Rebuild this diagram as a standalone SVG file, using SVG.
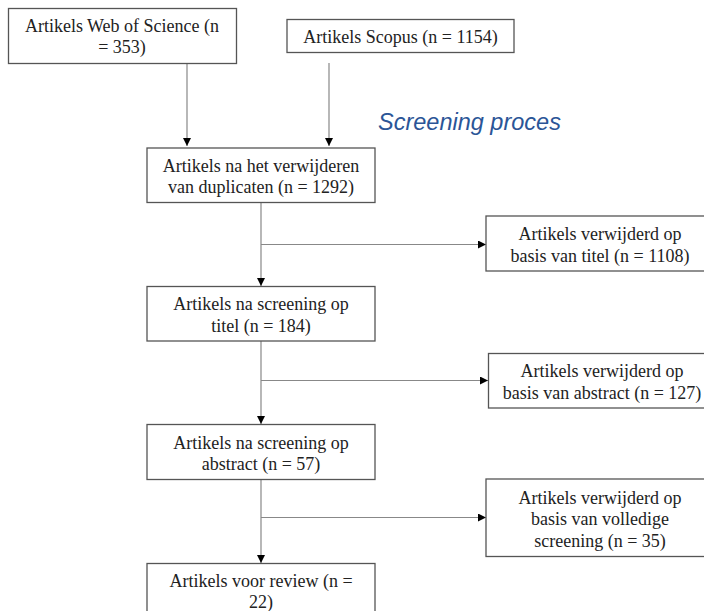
<svg xmlns="http://www.w3.org/2000/svg" width="704" height="611" viewBox="0 0 704 611">
<style>
.box{fill:#fff;stroke:#555;stroke-width:1.3}
.t{font-family:"Liberation Serif","Times New Roman",serif;font-size:18px;fill:#222;text-anchor:middle}
.c{stroke:#888;stroke-width:1.2;fill:none;marker-end:url(#ah)}
.lbl{font-family:"Liberation Sans",Arial,sans-serif;font-size:23.5px;font-style:italic;fill:#2B5597}
</style>
<defs>
<marker id="ah" viewBox="0 0 10 10" refX="10" refY="5" markerWidth="8" markerHeight="8" markerUnits="userSpaceOnUse" orient="auto">
<path d="M0,0 L10,5 L0,10 z" fill="#000"/>
</marker>
</defs>
<rect width="704" height="611" fill="#fff"/>
<g id="connectors">
<line class="c" x1="187" y1="64" x2="187" y2="146"/>
<line class="c" x1="329" y1="63" x2="329" y2="146"/>
<line class="c" x1="261" y1="203" x2="261" y2="286"/>
<line class="c" x1="261" y1="244.5" x2="486" y2="244.5"/>
<line class="c" x1="261" y1="341" x2="261" y2="424"/>
<line class="c" x1="261" y1="380.5" x2="488" y2="380.5"/>
<line class="c" x1="261" y1="479.5" x2="261" y2="563"/>
<line class="c" x1="261" y1="517.5" x2="486" y2="517.5"/>
</g>
<text class="lbl" x="378" y="130">Screening proces</text>
<g id="wos"><rect class="box" x="8.5" y="8.5" width="228" height="55"/>
<text class="t" x="122" y="32">Artikels Web of Science (n</text><text class="t" x="122" y="53">= 353)</text></g>
<g id="scopus"><rect class="box" x="287" y="19.5" width="227" height="33"/>
<text class="t" x="400.5" y="43">Artikels Scopus (n = 1154)</text></g>
<g id="dup"><rect class="box" x="147" y="148" width="228" height="54.5"/>
<text class="t" x="261" y="171.5">Artikels na het verwijderen</text><text class="t" x="261" y="193">van duplicaten (n = 1292)</text></g>
<g id="rmtitel"><rect class="box" x="486" y="216" width="228" height="55"/>
<text class="t" x="600" y="240">Artikels verwijderd op</text><text class="t" x="600" y="261.5">basis van titel (n = 1108)</text></g>
<g id="titel"><rect class="box" x="147" y="286.5" width="228" height="54.5"/>
<text class="t" x="261" y="310">Artikels na screening op</text><text class="t" x="261" y="331.5">titel (n = 184)</text></g>
<g id="rmabstract"><rect class="box" x="488.5" y="353.5" width="228" height="54.5"/>
<text class="t" x="602" y="377">Artikels verwijderd op</text><text class="t" x="602" y="398.5">basis van abstract (n = 127)</text></g>
<g id="abstract"><rect class="box" x="147" y="424.5" width="228" height="55"/>
<text class="t" x="261" y="448.5">Artikels na screening op</text><text class="t" x="261" y="470">abstract (n = 57)</text></g>
<g id="rmfull"><rect class="box" x="486" y="479" width="228" height="77.5"/>
<text class="t" x="600" y="503.5">Artikels verwijderd op</text><text class="t" x="600" y="525">basis van volledige</text><text class="t" x="600" y="546.5">screening (n = 35)</text></g>
<g id="review"><rect class="box" x="147" y="563.5" width="228" height="60"/>
<text class="t" x="261" y="587">Artikels voor review (n =</text><text class="t" x="261" y="608">22)</text></g>
</svg>
